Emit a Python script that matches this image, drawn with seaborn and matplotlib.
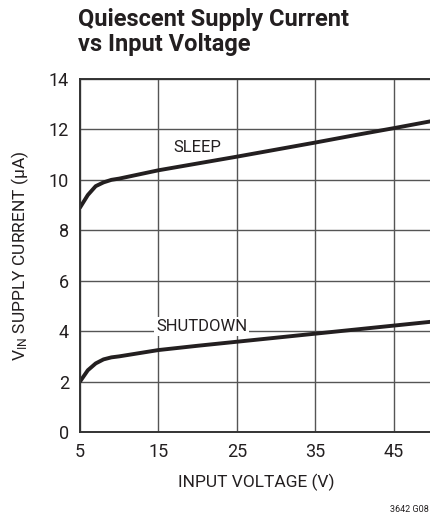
import numpy as np
import pandas as pd
import seaborn as sns
import matplotlib.pyplot as plt

# values
voltage = [5, 6, 7, 8, 9, 10, 15, 20, 25, 30, 35, 40, 45, 50]
sleep_ua = [8.9, 9.4, 9.75, 9.9, 10.0, 10.05, 10.38, 10.65, 10.92, 11.2, 11.48, 11.77, 12.05, 12.34]
shutdown_ua = [2.0, 2.45, 2.72, 2.88, 2.96, 3.0, 3.25, 3.42, 3.58, 3.74, 3.9, 4.06, 4.22, 4.38]

xticks = [5, 15, 25, 35, 45]
yticks = [0, 2, 4, 6, 8, 10, 12, 14]

df = pd.DataFrame({'voltage': voltage + voltage,
                   'current': sleep_ua + shutdown_ua,
                   'mode': ['SLEEP'] * len(voltage) + ['SHUTDOWN'] * len(voltage)})

sns.set_style('white')
plt.rcParams['font.family'] = ['Roboto', 'DejaVu Sans']
plt.rcParams['mathtext.fontset'] = 'custom'
plt.rcParams['mathtext.rm'] = 'Roboto'
plt.rcParams['mathtext.it'] = 'Roboto'

fig = plt.figure(figsize=(4.30, 5.16), dpi=100)
ax = fig.add_axes([80 / 430, (516 - 432) / 516, 353 / 430, 353 / 516])

sns.lineplot(data=df, x='voltage', y='current', units='mode', estimator=None,
             color='#231f20', linewidth=2.8, ax=ax, legend=False)

ax.set_xlim(5, 50)
ax.set_ylim(0, 14)
ax.set_xticks(xticks)
ax.set_yticks(yticks)
ax.grid(True, color='#555555', linewidth=1.0)
ax.set_axisbelow(True)
for s in ax.spines.values():
    s.set_color('#333333')
    s.set_linewidth(1.4)
ax.tick_params(labelsize=13, colors='#231f20', length=0, pad=8)

ax.set_xlabel('INPUT VOLTAGE (V)', fontsize=12.5, color='#231f20', labelpad=9)
ax.set_ylabel(r'V$_{\rm IN}$ SUPPLY CURRENT (μA)', fontsize=12.5, color='#231f20', labelpad=13)

ax.text(20.0, 11.27, 'SLEEP', fontsize=12, ha='center', va='center', color='#231f20')
ax.text(20.5, 4.18, 'SHUTDOWN', fontsize=12, ha='center', va='center', color='#231f20',
        bbox=dict(facecolor='white', edgecolor='none', pad=1.5))

fig.text(78 / 430, 1 - 8 / 516, 'Quiescent Supply Current\nvs Input Voltage', fontsize=17,
         fontweight='bold', ha='left', va='top', color='#231f20', linespacing=1.1)
fig.text(429 / 430, 1 - 510 / 516, '3642 G08', fontsize=6.5, ha='right', va='center', color='#231f20')

fig.savefig('out.png', dpi=100)
